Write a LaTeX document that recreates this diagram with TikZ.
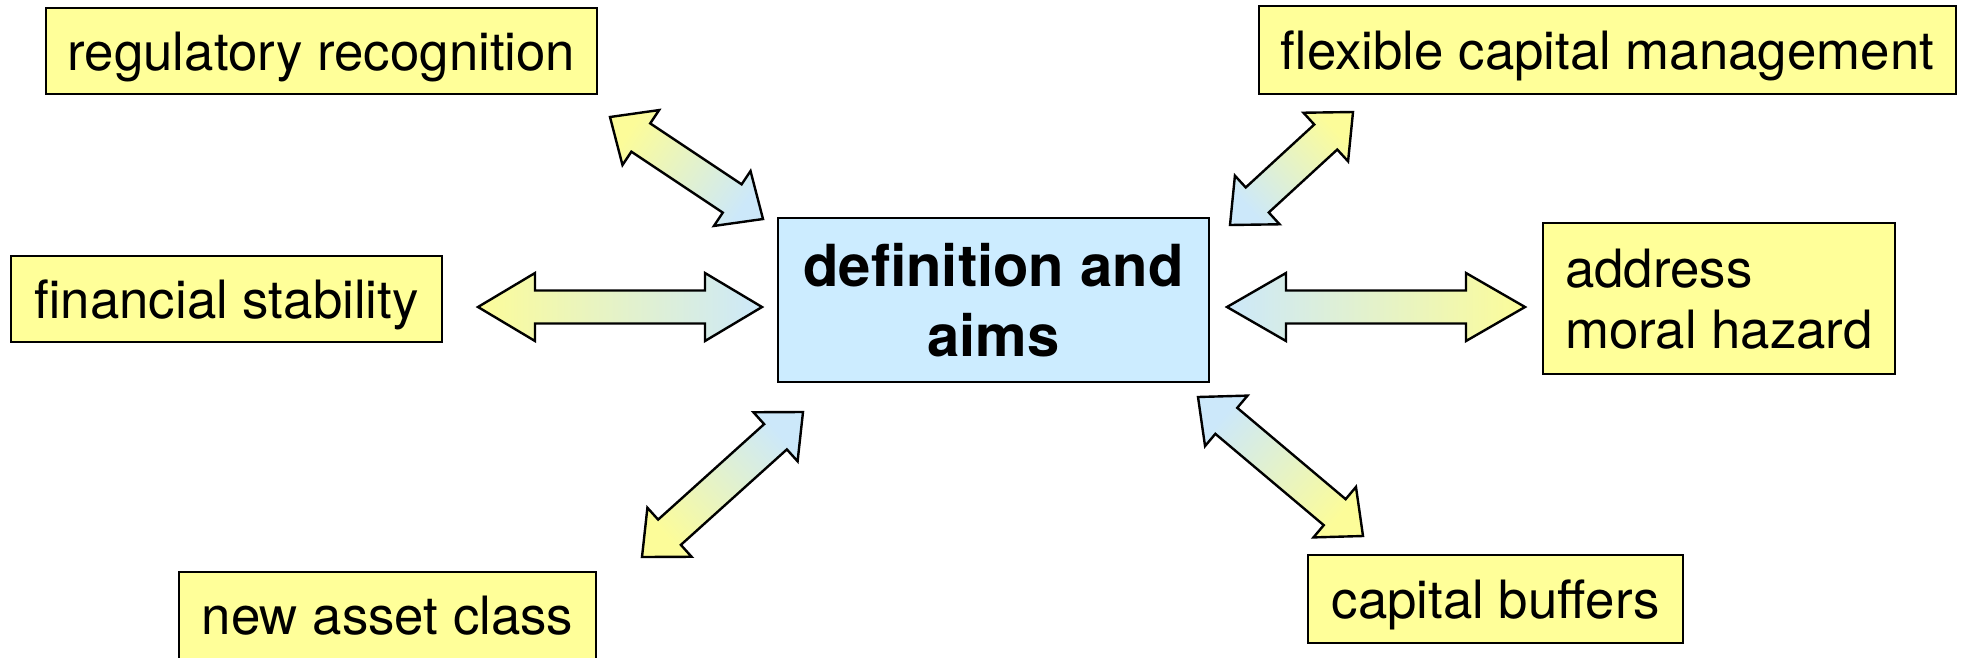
\documentclass[tikz,border=0pt]{standalone}
\usepackage{fontspec}
\setmainfont{TeX Gyre Heros}
\usetikzlibrary{calc}
\definecolor{boxyellow}{HTML}{FFFF99}
\definecolor{boxblue}{HTML}{CCECFF}
\definecolor{arryellow}{HTML}{FCFC99}
\definecolor{arrblue}{HTML}{CCE8FA}
\tikzset{
  outerbox/.style={draw=black, line width=2.4pt, fill=boxyellow, rectangle, inner sep=0pt,
    text depth=0pt, font=\fontsize{52.8}{61}\selectfont},
  centerbox/.style={draw=black, line width=2.4pt, fill=boxblue, rectangle, inner sep=0pt,
    align=center, font=\fontsize{58}{70}\selectfont\bfseries},
  blockarr/.style={draw=black, line width=2.4pt, line join=miter,
    top color=arrblue, bottom color=arryellow, middle color=arrblue!50!arryellow},
}
% #1 yellow tip, #2 blue tip, #3 head length, #4 head half-width, #5 shaft half-width, #6 shading angle
\newcommand\dblarrow[6]{%
  \path coordinate (ha) at ($(#1)!#3!(#2)$) coordinate (hb) at ($(#2)!#3!(#1)$);
  \draw[blockarr, shading angle=#6] (#1) -- ($(ha)!#4!90:(#2)$) -- ($(ha)!#5!90:(#2)$)
    -- ($(hb)!#5!-90:(#1)$) -- ($(hb)!#4!-90:(#1)$) -- (#2)
    -- ($(hb)!#4!90:(#1)$) -- ($(hb)!#5!90:(#1)$)
    -- ($(ha)!#5!-90:(#2)$) -- ($(ha)!#4!-90:(#2)$) -- cycle;
}
\begin{document}
\begin{tikzpicture}[x=1pt,y=-1pt]
\clip (0,0) rectangle (1967,657);
\fill[white] (0,0) rectangle (1967,657);

% boxes
\node[outerbox, minimum width=551pt, minimum height=86pt] (reg) at (321.5,51) {regulatory recognition};
\node[outerbox, minimum width=697pt, minimum height=88pt] (flex) at (1607.5,50) {flexible capital management};
\node[outerbox, minimum width=431pt, minimum height=86pt] (fin) at (226.5,299) {financial stability};
\node[centerbox, minimum width=431pt, minimum height=164pt] (def) at (993.5,300) {definition and\\aims};
\node[outerbox, align=left, minimum width=352pt, minimum height=151pt] (addr) at (1719,298.5) {address\\moral hazard};
\node[outerbox, minimum width=417pt, minimum height=87pt] (newa) at (387.5,615.5) {new asset class};
\node[outerbox, minimum width=375pt, minimum height=88pt] (capb) at (1495.5,599) {capital buffers};

% arrow tips
\coordinate (a1y) at (478,307);  \coordinate (a1b) at (762,307);
\coordinate (a2y) at (1525,307); \coordinate (a2b) at (1227,307);
\coordinate (a3y) at (610,117);  \coordinate (a3b) at (763,219);
\coordinate (a4y) at (1353,112); \coordinate (a4b) at (1230,225);
\coordinate (a5y) at (642,557);  \coordinate (a5b) at (803,412);
\coordinate (a6y) at (1363,536); \coordinate (a6b) at (1198,397);

\dblarrow{a1y}{a1b}{57pt}{34pt}{16.5pt}{-90}
\dblarrow{a2y}{a2b}{59pt}{34pt}{16.5pt}{90}
\dblarrow{a3y}{a3b}{37pt}{33pt}{17pt}{-123.7}
\dblarrow{a4y}{a4b}{37pt}{33pt}{17pt}{132.6}
\dblarrow{a5y}{a5b}{37pt}{33pt}{17pt}{-48}
\dblarrow{a6y}{a6b}{37pt}{33pt}{17pt}{49.9}
\end{tikzpicture}
\end{document}
